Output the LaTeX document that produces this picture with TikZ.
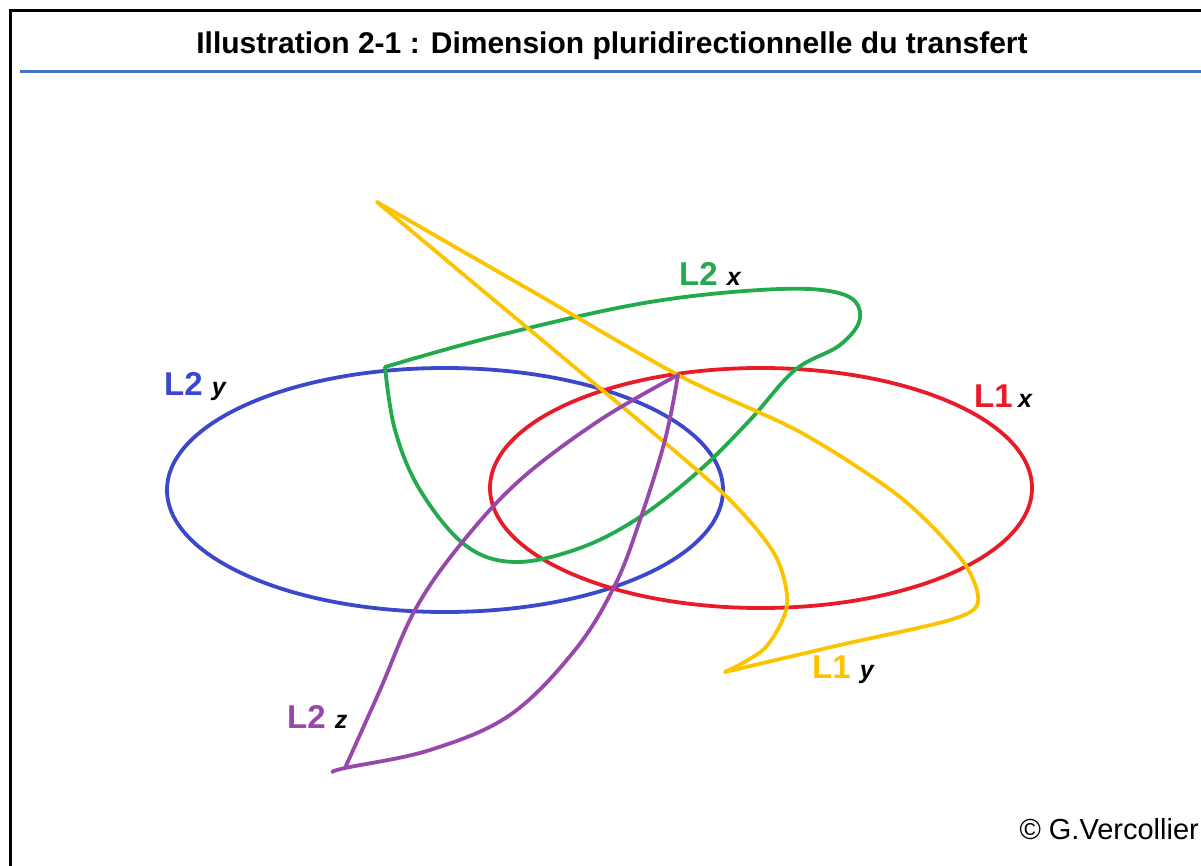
\documentclass[tikz,border=0pt]{standalone}
\usepackage{fontspec}
\setmainfont{Liberation Sans}
\usetikzlibrary{positioning,calc}
\definecolor{myblue}{RGB}{59,72,204}
\definecolor{myred}{RGB}{232,28,40}
\definecolor{mygreen}{RGB}{34,170,76}
\definecolor{myyellow}{RGB}{252,196,0}
\definecolor{mypurple}{RGB}{150,72,172}
\definecolor{myrule}{RGB}{68,114,196}
\newcommand{\lidx}[1]{{\fontsize{25}{25}\selectfont\bfseries\itshape\color{black}#1}}

\begin{document}
\begin{tikzpicture}[x=1pt,y=-1pt,
    curve/.style={line width=3.8pt,line cap=round,line join=round},
    lname/.style={anchor=base west,inner sep=0pt,font=\fontsize{33}{33}\selectfont\bfseries}]
            \useasboundingbox (0,0) rectangle (1201,866);
            \draw[line width=3pt] (10,866) -- (10,11) -- (1201,11);
            \draw[myrule, line width=3pt] (20,72) -- (1201,72);
            \node[anchor=base, inner sep=0pt, font=\fontsize{30}{30}\selectfont\bfseries] (title) at (612,54) {Illustration 2-1 : Dimension pluridirectionnelle du transfert};
            \node[anchor=base east, inner sep=0pt, font=\fontsize{29}{29}\selectfont] (copy) at (1199,839) {© G.Vercollier};
            % ellipses
            \draw[curve, myblue] (445,490) ellipse [x radius=278, y radius=122];
            \draw[curve, myred] (761,488) ellipse [x radius=271, y radius=120];
            % loops
            \draw[curve, mygreen] plot[smooth, tension=0.6] coordinates {(385,367) (500,335) (650,302) (780,289) (845,295) (860,318) (840,345) (795,370) (750,420) (700,470) (640,517) (580,548) (515,562) (465,545) (420,490) (395,430) (385,367)};
            \draw[curve, myyellow] plot[smooth, tension=0.5] coordinates {(725,672) (765,648) (787,605) (775,555) (730,500) (650,430) (560,355) (470,280) (377,202)};
            \draw[curve, myyellow] plot[smooth, tension=0.5] coordinates {(377,202) (530,290) (680,376) (800,432) (900,497) (962,560) (978,602) (950,620) (840,645) (725,672)};
            \draw[curve, mypurple] plot[smooth, tension=0.6] coordinates {(678,375) (600,420) (520,480) (460,545) (415,610) (380,690) (345,768)};
            \draw[curve, mypurple] plot[smooth, tension=0.6] coordinates {(678,375) (665,440) (640,520) (615,585) (575,650) (510,715) (430,750) (345,768) (333,772)};
            % labels
            \node[lname, text=myblue] (l2y) at (164,395) {L2 \lidx{y}};
            \node[lname, text=mygreen] (l2x) at (679,286) {L2 \lidx{x}};
            \node[lname, text=myred] (l1x) at (974,407) {L1\,\lidx{x}};
            \node[lname, text=myyellow] (l1y) at (812,678) {L1 \lidx{y}};
            \node[lname, text=mypurple] (l2z) at (287,728) {L2 \lidx{z}};
        \end{tikzpicture}
\end{document}
